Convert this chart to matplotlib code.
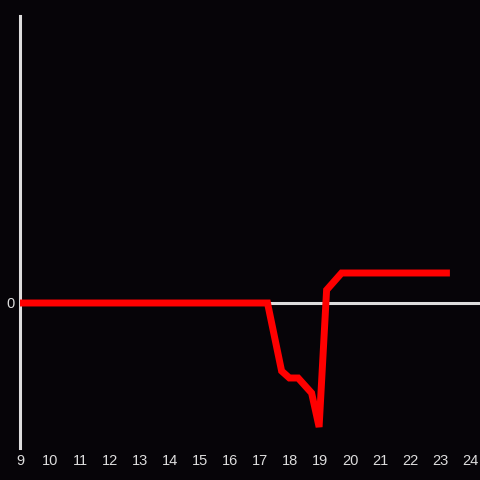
import matplotlib
matplotlib.use("Agg")
import matplotlib.pyplot as plt

hours = [9, 17.25, 17.72, 17.98, 18.27, 18.72, 18.97, 19.22, 19.72, 23.33]
values = [0, 0, -68, -75, -75, -90, -124, 13, 30, 30]
xticks = list(range(9, 25))
yticks = [0]

bg = '#060408'
fig = plt.figure(figsize=(4.8, 4.8), dpi=100, facecolor=bg)
ax = fig.add_axes([20/480, 32/480, 460/480, 432/480], facecolor=bg)

ax.axhline(0, color='#dddddd', lw=2.2, zorder=1)
ax.plot(hours, values, color='#ff0000', lw=5, zorder=3,
        solid_joinstyle='miter', solid_capstyle='butt')

ax.set_xlim(9, 9 + 460/30)
ax.set_ylim(-145, 287)
ax.set_xticks(xticks)
ax.set_xticklabels([str(t) for t in xticks])
ax.set_yticks(yticks)
ax.set_yticklabels(['0'])
for s in ['top', 'right', 'bottom']:
    ax.spines[s].set_visible(False)
ax.spines['left'].set_color('#dddddd')
ax.spines['left'].set_linewidth(2.2)
ax.tick_params(length=0, colors='#dddddd', labelsize=10.5, pad=4)
ax.tick_params(axis='x', pad=4)
for lab in ax.get_xticklabels() + ax.get_yticklabels():
    lab.set_family('Liberation Sans')
    lab.set_color('#dddddd')

fig.savefig('out.png', dpi=100, facecolor=bg)
